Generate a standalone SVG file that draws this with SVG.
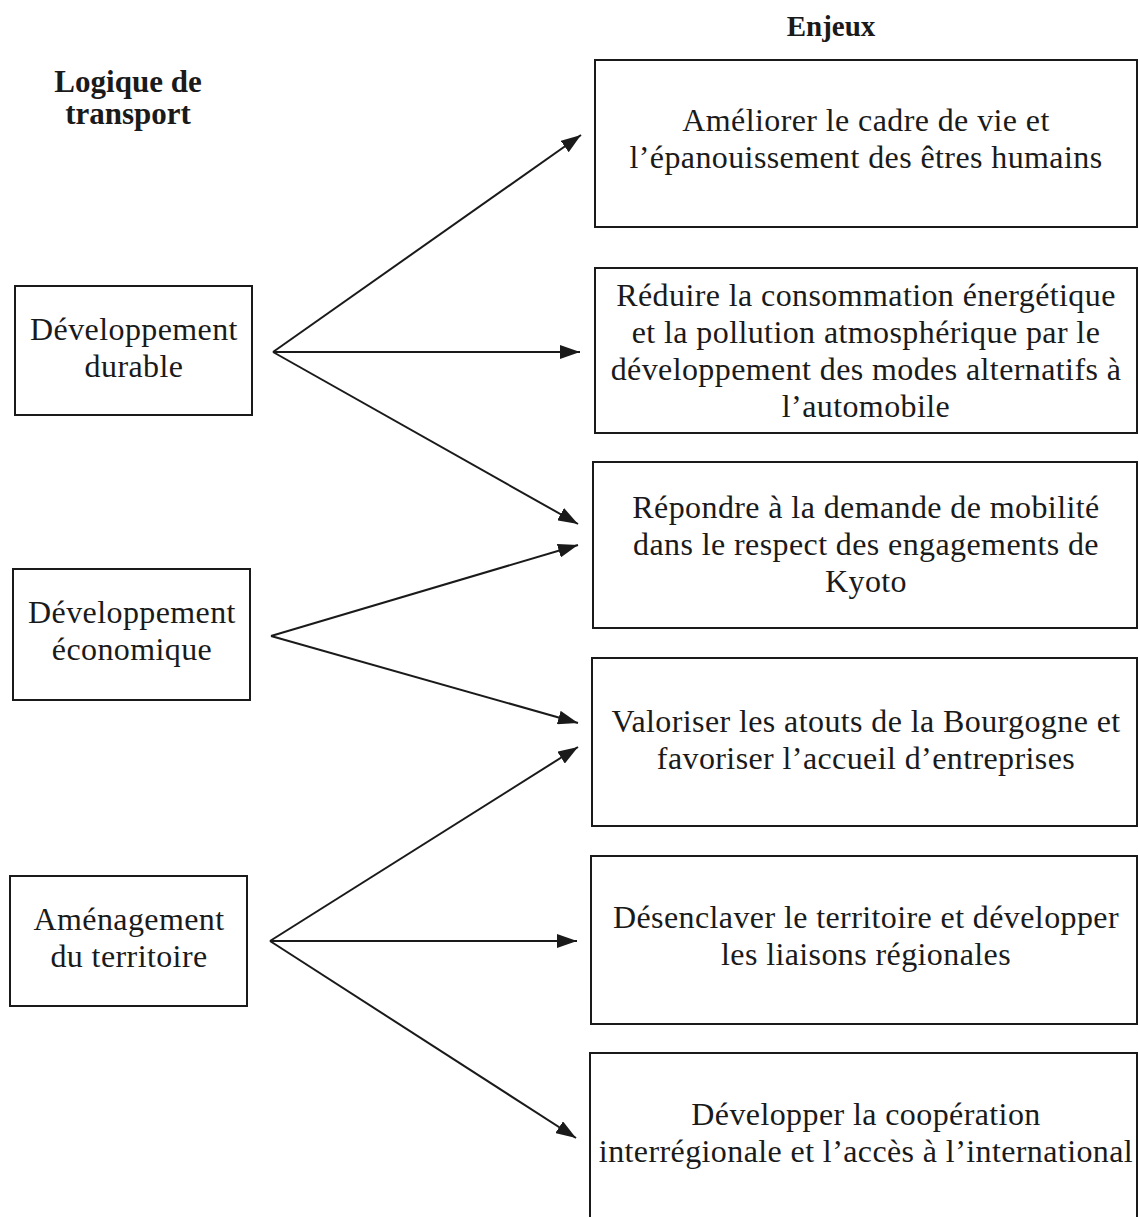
<svg xmlns="http://www.w3.org/2000/svg" width="1139" height="1217" viewBox="0 0 1139 1217">
<style>
.box{fill:none;stroke:#1a1a1a;stroke-width:2}
.t{font-family:"Liberation Serif","DejaVu Serif",serif;font-size:32px;letter-spacing:0.4px;fill:#1a1a1a;text-anchor:middle}
.h{font-family:"Liberation Serif","DejaVu Serif",serif;font-weight:bold;fill:#1a1a1a;text-anchor:middle}
.c{stroke:#1a1a1a;stroke-width:2;fill:none;marker-end:url(#ah)}
</style>
<defs>
<marker id="ah" viewBox="0 0 20 14" refX="20" refY="7" markerWidth="20" markerHeight="14" markerUnits="userSpaceOnUse" orient="auto">
<path d="M0,0 L20,7 L0,14 Z" fill="#1a1a1a"/>
</marker>
</defs>
<rect width="1139" height="1217" fill="#fff"/>
<text class="h" x="831" y="36" font-size="29">Enjeux</text>
<text class="h" x="128" y="92" font-size="31">Logique de</text>
<text class="h" x="128" y="124" font-size="31">transport</text>

<g id="l1"><rect class="box" x="15" y="286" width="237" height="129"/><text class="t" x="134" y="340">Développement</text><text class="t" x="134" y="377">durable</text></g>
<g id="l2"><rect class="box" x="13" y="569" width="237" height="131"/><text class="t" x="132" y="623">Développement</text><text class="t" x="132" y="660">économique</text></g>
<g id="l3"><rect class="box" x="10" y="876" width="237" height="130"/><text class="t" x="129" y="930">Aménagement</text><text class="t" x="129" y="967">du territoire</text></g>

<g id="r1"><rect class="box" x="595" y="60" width="542" height="167"/><text class="t" x="866" y="131">Améliorer le cadre de vie et</text><text class="t" x="866" y="168">l’épanouissement des êtres humains</text></g>
<g id="r2"><rect class="box" x="595" y="268" width="542" height="165"/><text class="t" x="866" y="306">Réduire la consommation énergétique</text><text class="t" x="866" y="343">et la pollution atmosphérique par le</text><text class="t" x="866" y="380">développement des modes alternatifs à</text><text class="t" x="866" y="417">l’automobile</text></g>
<g id="r3"><rect class="box" x="593" y="462" width="544" height="166"/><text class="t" x="866" y="518">Répondre à la demande de mobilité</text><text class="t" x="866" y="555">dans le respect des engagements de</text><text class="t" x="866" y="592">Kyoto</text></g>
<g id="r4"><rect class="box" x="592" y="658" width="545" height="168"/><text class="t" x="866" y="732">Valoriser les atouts de la Bourgogne et</text><text class="t" x="866" y="769">favoriser l’accueil d’entreprises</text></g>
<g id="r5"><rect class="box" x="591" y="856" width="546" height="168"/><text class="t" x="866" y="928">Désenclaver le territoire et développer</text><text class="t" x="866" y="965">les liaisons régionales</text></g>
<g id="r6"><path class="box" d="M590,1220 V1053 H1137 V1220"/><text class="t" x="866" y="1125">Développer la coopération</text><text class="t" x="866" y="1162">interrégionale et l’accès à l’international</text></g>

<g id="connectors">
<line class="c" x1="273" y1="352" x2="581" y2="135"/>
<line class="c" x1="273" y1="352" x2="580" y2="352"/>
<line class="c" x1="273" y1="352" x2="578" y2="524"/>
<line class="c" x1="271" y1="636" x2="578" y2="545"/>
<line class="c" x1="271" y1="636" x2="578" y2="723"/>
<line class="c" x1="270" y1="941" x2="578" y2="747"/>
<line class="c" x1="270" y1="941" x2="577" y2="941"/>
<line class="c" x1="270" y1="941" x2="576" y2="1138"/>
</g>
</svg>
